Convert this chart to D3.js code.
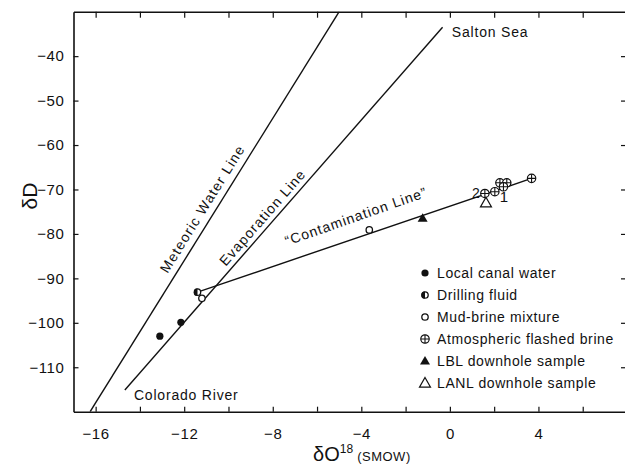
<!DOCTYPE html>
<html><head><meta charset="utf-8">
<script src="https://cdn.jsdelivr.net/npm/d3@7"></script>
<style>
body{margin:0;background:#fff;}
svg{display:block;}
text{font-family:"Liberation Sans",Arial,sans-serif;fill:#111;}
</style></head><body>
<svg id="chart" width="625" height="466"></svg>
<script>
// ---- data ----
const xTicks = [-16,-14,-12,-10,-8,-6,-4,-2,0,2,4,6];
const xTickLabels = [-16,-12,-8,-4,0,4];
const yTicks = [-40,-50,-60,-70,-80,-90,-100,-110];
const localCanalWater = [[-13.1,-103.0],[-12.15,-99.9]];
const drillingFluid = [[-11.4,-93.1]];
const mudBrineMixture = [[-11.2,-94.5],[-3.64,-79.1]];
const flashedBrine = [[1.58,-70.9],[2.03,-70.5],[2.26,-68.5],[2.57,-68.5],[2.42,-69.4],[3.69,-67.5]];
const lblDownhole = [[-1.23,-76.5]];
const lanlDownhole = [[1.63,-73.0]];
const meteoricLine = [[-16.25,-120],[-5,-30]];
const evaporationLine = [[-14.68,-115.1],[-0.33,-33.5]];
const contaminationLine = [[-11.4,-93.1],[3.69,-67.5]];
const legendLabels = ["Local canal water","Drilling fluid","Mud-brine mixture","Atmospheric flashed brine","LBL downhole sample","LANL downhole sample"];
const legendKinds = ["filled","half","open","cross","tri","opentri"];

// ---- layout ----
const svg = d3.select("#chart");
const x = d3.scaleLinear().domain([-17,8]).range([73.5,627]);
const y = d3.scaleLinear().domain([-120,-30]).range([411.7,11.7]);
const fmt = d => d < 0 ? "\u2212" + Math.abs(d) : String(d);
const ink = "#111";

svg.append("defs").append("clipPath").attr("id","plot")
  .append("rect").attr("x",73.5).attr("y",11.7).attr("width",553.5).attr("height",400);

function styleAxis(g){
  g.attr("font-family",null).attr("font-size",null);
  g.select(".domain").attr("stroke",ink).attr("stroke-width",1.6);
  g.selectAll(".tick line").attr("stroke",ink).attr("stroke-width",1.2);
  g.selectAll(".tick text").attr("fill",ink).style("font-size","15px").style("letter-spacing","0.6px");
}

svg.append("g").attr("transform",`translate(0,${y(-120)})`)
  .call(d3.axisBottom(x).tickValues(xTicks).tickSizeInner(-5).tickSizeOuter(0).tickPadding(17)
    .tickFormat(d => xTickLabels.includes(d) ? fmt(d) : ""))
  .call(styleAxis);
svg.append("g").attr("transform",`translate(0,${y(-30)})`)
  .call(d3.axisTop(x).tickValues(xTicks).tickSizeInner(-6).tickSizeOuter(0).tickFormat(""))
  .call(styleAxis);
svg.append("g").attr("transform",`translate(${x(-17)},0)`)
  .call(d3.axisLeft(y).tickValues(yTicks).tickSizeInner(-5).tickSizeOuter(0).tickPadding(9).tickFormat(fmt))
  .call(styleAxis);
svg.append("g").attr("transform",`translate(${x(8)},0)`)
  .call(d3.axisRight(y).tickValues(yTicks).tickSizeInner(-6).tickSizeOuter(0).tickFormat(""))
  .call(styleAxis);

// ---- lines ----
const line = d3.line().x(d => x(d[0])).y(d => y(d[1]));
const plot = svg.append("g").attr("clip-path","url(#plot)");
[meteoricLine, evaporationLine, contaminationLine].forEach(l => {
  plot.append("path").attr("d", line(l)).attr("fill","none").attr("stroke",ink).attr("stroke-width",1.4);
});

// ---- markers ----
function marker(g, kind, cx, cy){
  const r = 3.6;
  if(kind==="filled"){
    g.append("circle").attr("cx",cx).attr("cy",cy).attr("r",r).attr("fill",ink);
  } else if(kind==="open"){
    g.append("circle").attr("cx",cx).attr("cy",cy).attr("r",r-0.4).attr("fill","#fff").attr("stroke",ink).attr("stroke-width",1.3);
  } else if(kind==="half"){
    g.append("circle").attr("cx",cx).attr("cy",cy).attr("r",r-0.4).attr("fill","#fff").attr("stroke",ink).attr("stroke-width",1.3);
    g.append("path").attr("d",`M${cx},${cy-r}A${r},${r} 0 0 0 ${cx},${cy+r}Z`).attr("fill",ink);
  } else if(kind==="cross"){
    const R = 4.2;
    g.append("circle").attr("cx",cx).attr("cy",cy).attr("r",R).attr("fill","#fff").attr("stroke",ink).attr("stroke-width",1.2);
    g.append("path").attr("d",`M${cx-R},${cy}H${cx+R}M${cx},${cy-R}V${cy+R}`).attr("stroke",ink).attr("stroke-width",1.1);
  } else if(kind==="tri"){
    const s = 5;
    g.append("path").attr("d",`M${cx},${cy-s}L${cx+s},${cy+s*0.7}L${cx-s},${cy+s*0.7}Z`).attr("fill",ink);
  } else if(kind==="opentri"){
    const s = 5.5;
    g.append("path").attr("d",`M${cx},${cy-s}L${cx+s},${cy+s*0.75}L${cx-s},${cy+s*0.75}Z`).attr("fill","#fff").attr("stroke",ink).attr("stroke-width",1.2);
  }
}
const mk = svg.append("g");
[[localCanalWater,"filled"],[drillingFluid,"half"],[mudBrineMixture,"open"],[flashedBrine,"cross"],[lblDownhole,"tri"],[lanlDownhole,"opentri"]]
  .forEach(([arr,kind]) => arr.forEach(d => marker(mk, kind, x(d[0]), y(d[1]))));

// point labels 1 and 2
svg.append("text").attr("x",x(1.0)).attr("y",y(-71.9)).style("font-size","14px").text("2");
svg.append("text").attr("x",x(2.44)).attr("y",y(-72.8)).attr("text-anchor","middle").style("font-size","15px").text("1");

// ---- line labels ----
function angleOf(l){
  return Math.atan2(y(l[1][1])-y(l[0][1]), x(l[1][0])-x(l[0][0]))*180/Math.PI;
}
function rotLabel(txt, px, py, ang, ls){
  svg.append("text").attr("transform",`translate(${x(px)},${y(py)}) rotate(${ang})`)
    .style("font-size","14px").style("letter-spacing",ls+"px").text(txt);
}
rotLabel("Meteoric Water Line", -12.75, -89.0, angleOf(meteoricLine), 1.2);
rotLabel("Evaporation Line", -10.12, -87.4, angleOf(evaporationLine), 1.1);
rotLabel("\u201CContamination Line\u201D", -7.36, -82.7, angleOf(contaminationLine)-0.6, 1.0);
svg.append("text").attr("x",x(0.09)).attr("y",y(-35.7)).style("font-size","14px").style("letter-spacing","0.8px").text("Salton Sea");
svg.append("text").attr("x",x(-14.27)).attr("y",y(-117.4)).style("font-size","14px").style("letter-spacing","0.8px").text("Colorado River");

// ---- legend ----
const lg = svg.append("g");
legendLabels.forEach((lab,i) => {
  const cy = 273 + i*22;
  marker(lg, legendKinds[i], 425, cy);
  lg.append("text").attr("x",437).attr("y",cy).attr("dy","0.35em")
    .style("font-size","14px").style("letter-spacing","0.6px").text(lab);
});

// ---- axis titles ----
svg.append("text").attr("transform","translate(37,196) rotate(-90)").attr("text-anchor","middle")
  .style("font-size","21px").text("\u03B4D");
const xt = svg.append("text").attr("x",313).attr("y",461);
xt.append("tspan").style("font-size","20px").text("\u03B4O");
xt.append("tspan").attr("dy",-8).style("font-size","12px").text("18");
xt.append("tspan").attr("dy",8).style("font-size","13px").style("letter-spacing","0.5px").text(" (SMOW)");
</script>
</body></html>
